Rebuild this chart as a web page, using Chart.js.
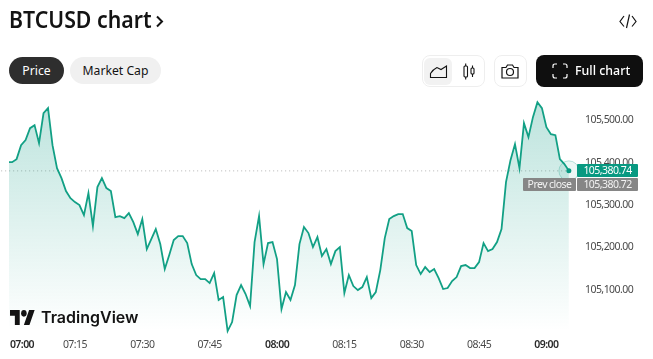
<!DOCTYPE html>
<html><head><meta charset="utf-8">
<script src="https://cdn.jsdelivr.net/npm/chart.js@4"></script>
<style>
html,body{margin:0;padding:0;background:#fff;width:653px;height:359px;overflow:hidden;font-family:"Noto Sans",sans-serif;color:#131313}
#wrap{position:relative;width:653px;height:359px}
canvas{position:absolute;left:0;top:0}
.h{position:absolute;white-space:nowrap;box-sizing:border-box}
.pill{top:57px;height:27px;border-radius:14px;font-size:12.2px;line-height:27px;text-align:center}
.box{border:1px solid #eee;border-radius:8px;top:55px;height:32px}
svg{position:absolute;overflow:visible}
</style></head><body>
<div id="wrap">
<canvas id="c" width="653" height="359"></canvas>
<div class="h" style="left:9px;top:2px;font-size:23px;font-weight:600;line-height:34px;transform:scaleX(.925);transform-origin:0 50%">BTCUSD chart</div>
<svg style="left:156px;top:15px" width="8" height="12"><path d="M1 1.5L6 6.5L1 11.5" fill="none" stroke="#131313" stroke-width="2"/></svg>
<svg style="left:619px;top:12px" width="18" height="16" fill="none" stroke="#131313" stroke-width="1.2"><path d="M5 4L1 9.5L5 14.5M13 4L17 9.5L13 14.5M10.5 2.5L7.5 16"/></svg>
<div class="h pill" style="left:9px;width:55px;background:#2e2e2e;color:#fff">Price</div>
<div class="h pill" style="left:70px;width:91px;background:#f0f0f0;color:#131313">Market Cap</div>
<div class="h box" style="left:422px;width:63px"></div>
<div class="h" style="left:424px;top:58px;width:28px;height:27px;background:#f2f2f2;border-radius:6px"></div>
<svg style="left:430px;top:65px" width="17" height="13" fill="none" stroke="#131313" stroke-width="1.1"><path d="M0.5 12.5H16.5V1L11 4.5L7 2.5C4 4 2 6 0.5 8.5Z"/></svg>
<svg style="left:463px;top:63px" width="12" height="17" fill="none" stroke="#131313" stroke-width="1.1"><rect x="1" y="3" width="3.5" height="11" rx="1"/><rect x="8" y="5" width="3" height="6" rx="1"/><path d="M2.7 0.5V3M2.7 14V16.5M9.5 2.5V5M9.5 11V14"/></svg>
<div class="h box" style="left:494px;width:33px"></div>
<svg style="left:501px;top:63px" width="18" height="16" fill="none" stroke="#131313" stroke-width="1.2"><path d="M1 4.5H5L6.5 2H11.5L13 4.5H17V15H1Z"/><circle cx="9" cy="9" r="3.5"/></svg>
<div class="h" style="left:536px;top:55px;width:107px;height:32px;background:#0f0f0f;border-radius:8px"></div>
<svg style="left:552px;top:63px" width="16" height="16" fill="none" stroke="#fff" stroke-width="1.2"><path d="M1 5V3Q1 1 3 1H5M11 1H13Q15 1 15 3V5M15 11V13Q15 15 13 15H11M5 15H3Q1 15 1 13V11"/></svg>
<div class="h" style="left:575px;top:55px;height:32px;line-height:32px;font-size:12.4px;font-weight:500;color:#fff">Full chart</div>
<svg style="left:10px;top:310px" width="25" height="15" viewBox="0 4 36 18" preserveAspectRatio="none"><path fill="#131313" d="M14 22H7V11H0V4h14v18zM28 22h-8l7.5-18h8L28 22z"/><circle fill="#131313" cx="20" cy="8" r="4"/></svg>
<div class="h" style="left:41px;top:305px;font-family:Inter,sans-serif;font-size:16px;font-weight:600;line-height:24px;color:#131313">TradingView</div>
</div>
<script>
const prices = [
105401.4,105401.4,105408.5,105441.6,105453.4,105481.8,105488.9,105446.3,105517.3,105529.1,105441.6,105387.2,105363.6,
105332.9,105316.3,105306.9,105299.8,105276.1,105328.1,105250.1,105342.3,105363.6,105340,105332.9,105271.4,105273.8,105269,105280.9,105259.6,105231.2,105266.7,105195.8,105219.4,105243,105207.6,105148.5,105181.6,105217,105226.5,105226.5,105209.9,105160.3,105134.3,105124.8,105124.8,105115.4,105139,
105075.2,105082.3,105001.9,105023.2,105087,105110.6,105089.4,105061,105212.3,105273.8,105160.3,105209.9,105212.3,105172.1,105053.9,105094.1,105075.2,105110.6,105207.6,105247.8,105233.6,105200.5,105224.1,105179.2,105195.8,105160.3,105191,105200.5,105091.7,105134.3,105108.3,105098.8,105105.9,105129.6,105079.9,105094.1,105146.1,105221.8,105266.7,105273.8,105278.5,105278.5,105245.4,105238.3,105157.9,105136.7,105153.2,
105141.4,105148.5,105127.2,105101.2,105103.6,105120.1,105129.6,105155.6,105157.9,105150.8,105150.8,105165,105209.9,105191,105195.8,105212.3,105243,105354.1,105406.1,105444,105387.2,105493.6,105460.5,105507.8,105543.3,105529.1,105484.2,105467.6,105465.2,105408.5,105396.7,105380.74];
const prevClose = 105380.72;
const lastPrice = 105380.74;
const yTicks = [105100,105200,105300,105400,105500];
const xTickMinutes = [0,15,30,45,60,75,90,105,120];
const xTickLabels = ['07:00','07:15','07:30','07:45','08:00','08:15','08:30','08:45','09:00'];
const boldLabels = ['07:00','08:00','09:00'];
const fmt = v => v.toLocaleString('en-US',{minimumFractionDigits:2,maximumFractionDigits:2});
const green = '#089981', FONT = '"Noto Sans",sans-serif';

const tags = {
  id:'tags',
  beforeDraw(ch){ ch.ctx.letterSpacing='-0.55px'; },
  afterDatasetsDraw(ch){
    const c = ch.ctx, pts = ch.getDatasetMeta(0).data, p = pts[pts.length-1];
    c.save();
    c.beginPath(); c.arc(p.x,p.y,10,0,Math.PI*2); c.fillStyle='rgba(8,153,129,.08)'; c.fill();
    c.strokeStyle='rgba(8,153,129,.25)'; c.lineWidth=1; c.stroke();
    c.beginPath(); c.arc(p.x,p.y,2.5,0,Math.PI*2); c.fillStyle=green; c.fill();
    c.font='10.5px '+FONT; c.textBaseline='middle';
    const yA = 170.5, yB = 184.5;
    const box=(x,y,w,col)=>{c.fillStyle=col;c.beginPath();c.roundRect(x,y-6.5,w,13,1);c.fill();};
    box(577,yA,61,green); box(577,yB,61,'#868686'); box(523,yB,53,'#868686');
    c.textAlign='center';
    c.fillStyle='#fff'; c.fillText(fmt(lastPrice),607.5,yA+0.5);
    c.fillStyle='#f2f2f2'; c.fillText(fmt(prevClose),607.5,yB+0.5);
    c.fillText('Prev close',549.5,yB+0.5);
    c.restore();
  }
};

new Chart(document.getElementById('c'),{
  type:'line',
  data:{datasets:[
    {data:prices.map((y,i)=>({x:i,y})),borderColor:'#12a085',borderWidth:1.8,pointRadius:0,tension:0,fill:'start',
     clip:{left:0,right:10,top:10,bottom:10},
     backgroundColor(ctx){
       const a=ctx.chart.chartArea; if(!a) return 'transparent';
       const g=ctx.chart.ctx.createLinearGradient(0,100,0,a.bottom);
       g.addColorStop(0,'rgba(8,153,129,.27)');g.addColorStop(1,'rgba(8,153,129,0)');return g;}},
    {data:[{x:-5,y:prevClose},{x:125.1,y:prevClose}],borderColor:'#b4b4b4',borderWidth:1,borderDash:[1,3],pointRadius:0,fill:false,clip:{left:10,right:0,top:0,bottom:0}}
  ]},
  options:{
    responsive:false,animation:false,
    layout:{padding:{left:9,top:90,right:0,bottom:0}},
    plugins:{legend:{display:false},tooltip:{enabled:false}},
    scales:{
      x:{type:'linear',min:0.31,max:125.03,
        grid:{display:false,drawTicks:false},border:{display:false},
        afterBuildTicks(s){s.ticks=xTickMinutes.map(m=>({value:Math.max(m,3.2)}));},
        afterFit(s){s.height=28;},
        ticks:{autoSkip:false,maxRotation:0,padding:8,
          callback:(v,i)=>xTickLabels[i],
          color:c=>boldLabels.includes(xTickLabels[c.index])?'#2a2a2a':'#4a4a4a',
          font:c=>({family:FONT,size:10.5,weight:boldLabels.includes(xTickLabels[c.index])?'600':'400'})}},
      y:{position:'right',min:105002,max:105572,
        grid:{display:false,drawTicks:false},border:{display:false},
        afterBuildTicks(s){s.ticks=yTicks.map(value=>({value}));},
        afterFit(s){s.width=84;},
        ticks:{padding:16,color:'#4a4a4a',font:{family:FONT,size:10.5},callback:v=>fmt(v)}}
    }
  },
  plugins:[tags]
});
</script>
</body></html>
